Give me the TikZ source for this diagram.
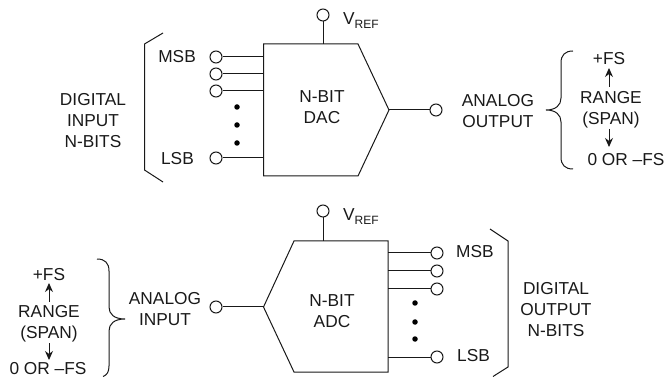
\documentclass[tikz,border=0pt]{standalone}
\usepackage{fontspec}
\setmainfont{Liberation Sans}
\usetikzlibrary{calc}
\usetikzlibrary{arrows.meta}
\definecolor{ink}{gray}{0.1}
\newcommand{\vrefsub}{V\raisebox{-3.5pt}{\fontsize{12}{12}\selectfont REF}}
\tikzset{
    term/.style={draw=ink,line width=1pt,circle,fill=white,minimum size=12pt,inner sep=0pt},
    lab/.style={inner sep=0pt,align=center,text=ink,font=\fontsize{17.3}{21}\selectfont},
    dotb/.style={circle,fill=black,minimum size=5.5pt,inner sep=0pt},
    wire/.style={draw=ink,line width=1pt}
}

\begin{document}
\begin{tikzpicture}[>={Stealth[length=9pt,width=8pt]},x=1pt,y=-1pt]
    \useasboundingbox (0,0) rectangle (665,377);
    % draw the dac
    \coordinate (dacw) at (263.5,44);
    \coordinate (dace) at (358,44);
    \coordinate (dactip) at (389,110);
    \coordinate (dacse) at (358,176);
    \coordinate (dacsw) at (263.5,176);
    \draw[wire] (dacw) -- (dace) -- (dactip) -- (dacse) -- (dacsw) -- cycle;
    \node[lab] (dacname) at (322,107.5) {N-BIT\\DAC};
    \node[term] (dacref) at (323,15) {};
    \node[lab,anchor=base west] (dacreflab) at (343,25) {\vrefsub};
    \draw[wire] (dacref) -- (dacref |- dacw);
    \foreach \i/\y in {1/57,2/74,3/91,4/158}
    {
        \node[term] (dacin\i) at (216,\y) {};
        \draw[wire] (dacin\i) -- (dacin\i -| dacw);
    }
    \foreach \i/\y in {1/107,2/125,3/143}
        \node[dotb] (dacdot\i) at (237,\y) {};
    \node[lab,anchor=east] (dacmsb) at (196,57) {MSB};
    \node[lab,anchor=east] (daclsb) at (194,159) {LSB};
    \draw[wire] (163,33) -- (144.5,44) -- (144.5,170) -- (163,182);
    \node[lab] (dacdig) at (93,120.5) {DIGITAL\\INPUT\\N-BITS};
    \node[term] (dacout) at (436,110) {};
    \draw[wire] (dactip) -- (dacout);
    \node[lab] (dacoutlab) at (498,111.5) {ANALOG\\OUTPUT};
    % the range brace on the right
    \draw[wire] (573,51) .. controls (565,51) and (561,55) .. (561,63) -- (561,98)
        .. controls (561,105) and (556,110) .. (546,110)
        .. controls (556,110) and (561,115) .. (561,122) -- (561,157)
        .. controls (561,165) and (565,169) .. (573,169);
    \node[lab] (dacfs) at (609,59) {+FS};
    \node[lab] (dacrange) at (611,109.5) {RANGE\\(SPAN)};
    \node[lab] (daczero) at (626,160) {0 OR --FS};
    \coordinate (dacup) at (609,87);
    \coordinate (dacuptip) at (609,68);
    \coordinate (dacdown) at (609,129);
    \coordinate (dacdowntip) at (609,147);
    \draw[wire,->] (dacup) -- (dacuptip);
    \draw[wire,->] (dacdown) -- (dacdowntip);
    % draw the adc
    \coordinate (adctip) at (263.5,307);
    \coordinate (adcw) at (294,241);
    \coordinate (adce) at (388,241);
    \coordinate (adcse) at (388,372);
    \coordinate (adcsw) at (294,372);
    \draw[wire] (adctip) -- (adcw) -- (adce) -- (adcse) -- (adcsw) -- cycle;
    \node[lab] (adcname) at (332,311) {N-BIT\\ADC};
    \node[term] (adcref) at (323,211) {};
    \node[lab,anchor=base west] (adcreflab) at (343,221) {\vrefsub};
    \draw[wire] (adcref) -- (adcref |- adcw);
    \foreach \i/\y in {1/253,2/271,3/289,4/357}
    {
        \node[term] (adcout\i) at (437,\y) {};
        \draw[wire] (adcout\i) -- (adcout\i -| adce);
    }
    \foreach \i/\y in {1/303,2/322,3/339}
        \node[dotb] (adcdot\i) at (415,\y) {};
    \node[lab,anchor=west] (adcmsb) at (456,252) {MSB};
    \node[lab,anchor=west] (adclsb) at (457,356) {LSB};
    \draw[wire] (490,229) -- (508,241) -- (508,367) -- (493,376.5);
    \node[lab] (adcdig) at (556,310) {DIGITAL\\OUTPUT\\N-BITS};
    \node[term] (adcin) at (216,307) {};
    \draw[wire] (adcin) -- (adctip);
    \node[lab] (adcinlab) at (165,309) {ANALOG\\INPUT};
    % the range brace on the left
    \draw[wire] (97,259) .. controls (105,259) and (109,263) .. (109,271) -- (109,307)
        .. controls (109,314) and (114,319) .. (125,319)
        .. controls (114,319) and (109,324) .. (109,331) -- (109,366)
        .. controls (109,372) and (107,375) .. (103,376.5);
    \node[lab] (adcfs) at (49,275) {+FS};
    \node[lab] (adcrange) at (49,324) {RANGE\\(SPAN)};
    \node[lab] (adczero) at (48,368.5) {0 OR --FS};
    \coordinate (adcup) at (49,302);
    \coordinate (adcuptip) at (49,283);
    \coordinate (adcdown) at (49,343);
    \coordinate (adcdowntip) at (49,360);
    \draw[wire,->] (adcup) -- (adcuptip);
    \draw[wire,->] (adcdown) -- (adcdowntip);
\end{tikzpicture}
\end{document}
